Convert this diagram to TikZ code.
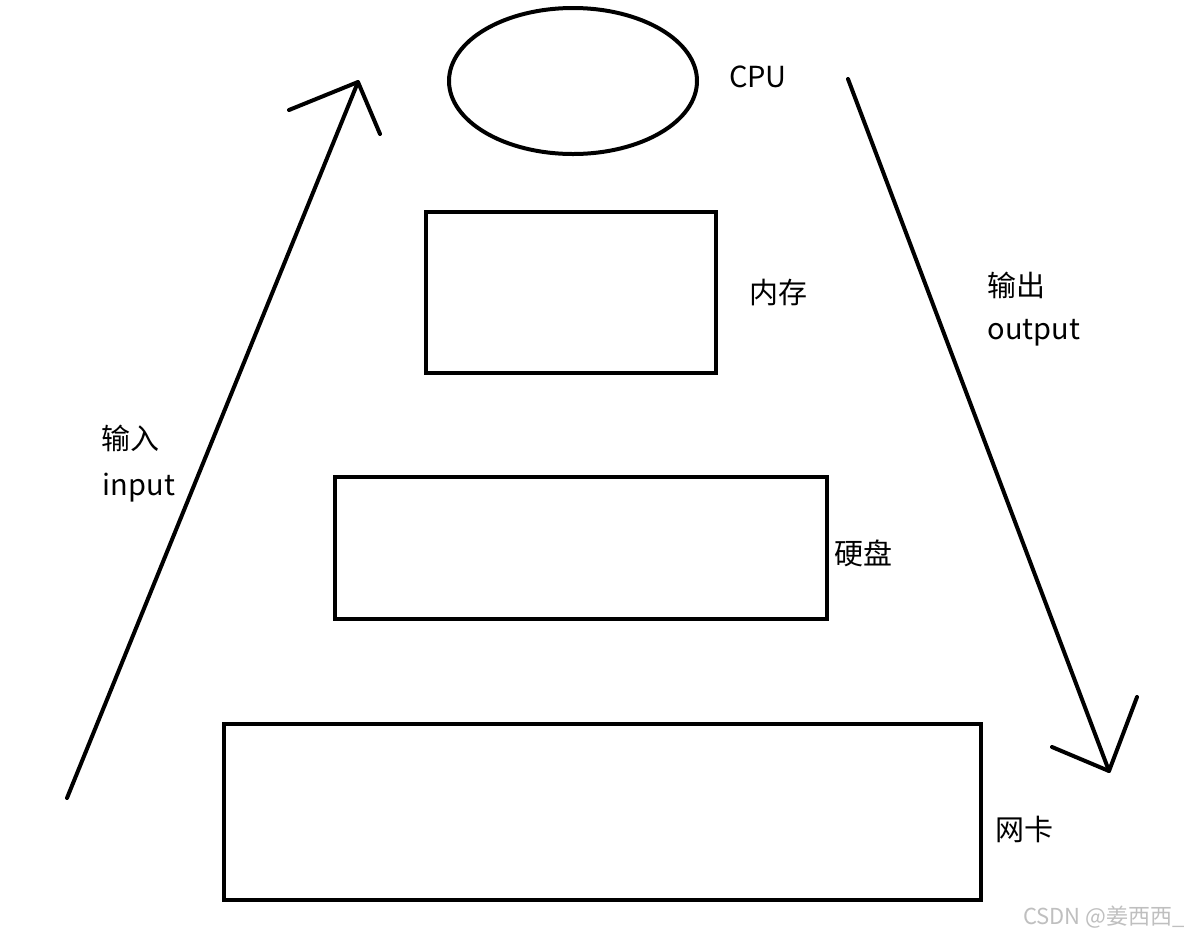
\documentclass[tikz,border=0pt]{standalone}
\usepackage{fontspec}
\usetikzlibrary{shapes.geometric}
\setmainfont{Noto Sans CJK SC}
\newfontfamily\cjk{Noto Sans CJK SC}
\begin{document}
\begin{tikzpicture}[x=1pt,y=-1pt,
  shp/.style={draw=black,line width=4pt},
  ln/.style={draw=black,line width=4pt,line cap=round,line join=round},
  lbl/.style={font=\cjk\fontsize{29}{33}\selectfont,inner sep=0pt,anchor=center},
  wm/.style={font=\cjk\fontsize{22}{26}\selectfont,text=black!25,inner sep=0pt,anchor=center}]
\useasboundingbox[fill=white] (0,0) rectangle (1194,938);
% CPU
\node[shp,ellipse,minimum width=248pt,minimum height=146pt,inner sep=0pt] (cpu) at (573,81) {};
\node[lbl] (cpul) at (758,77) {CPU};
% boxes
\draw[shp] (426,212) rectangle (716,373);
\node[lbl] (mem) at (778,293) {内存};
\draw[shp] (335,477) rectangle (827,619);
\node[lbl] (disk) at (863,553) {硬盘};
\draw[shp] (224,724) rectangle (981,900);
\node[lbl] (nic) at (1024,829) {网卡};
% input arrow
\coordinate (ia) at (67,798);
\coordinate (ib) at (358,82);
\coordinate (ih1) at (289,110);
\coordinate (ih2) at (380,134);
\draw[ln] (ia) -- (ib);
\draw[ln] (ih1) -- (ib) -- (ih2);
\node[lbl] (in1) at (130,438) {输入};
\node[lbl] (in2) at (139,488) {input};
% output arrow
\coordinate (oa) at (848,79);
\coordinate (ob) at (1109,771);
\coordinate (oh1) at (1052,747);
\coordinate (oh2) at (1137,697);
\draw[ln] (oa) -- (ob);
\draw[ln] (oh1) -- (ob) -- (oh2);
\node[lbl] (out1) at (1016,285) {输出};
\node[lbl] (out2) at (1034,333) {output};
% watermark
\node[wm] (wmk) at (1104,917) {CSDN @姜西西\_};
\end{tikzpicture}
\end{document}
